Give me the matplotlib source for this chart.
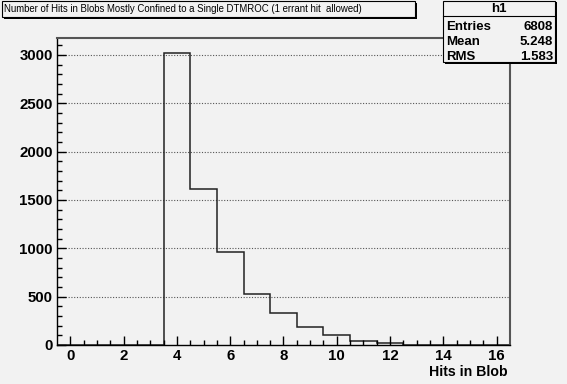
import matplotlib
matplotlib.use("Agg")
import matplotlib.pyplot as plt
from matplotlib.patches import Rectangle
from matplotlib.lines import Line2D
import numpy as np

# histogram contents, bins of width 1 centred on integer hit counts
bin_centers = list(range(0, 17))
counts = [0, 0, 0, 0, 3023, 1617, 959, 528, 332, 185, 103, 41, 16, 4, 0, 0, 0]

title = "Number of Hits in Blobs Mostly Confined to a Single DTMROC (1 errant hit  allowed)"
stats_name = "h1"
stats_labels = ["Entries", "Mean", "RMS"]
stats_values = ["6808", "5.248", "1.583"]
x_ticks = [0, 2, 4, 6, 8, 10, 12, 14, 16]
y_ticks = [0, 500, 1000, 1500, 2000, 2500, 3000]

W, H = 567, 384
bg = "#f2f2f2"
plt.rcParams["font.family"] = ["Liberation Sans", "DejaVu Sans"]

fig = plt.figure(figsize=(W / 100, H / 100), dpi=100, facecolor=bg)


def fx(px):
    return px / W


def fy(py):
    return 1 - py / H


ax = fig.add_axes([fx(57), fy(345), fx(510) - fx(57), fy(38) - fy(345)])
ax.set_facecolor(bg)

edges = np.array(bin_centers + [bin_centers[-1] + 1]) - 0.5
ax.stairs(counts, edges, color="#222222", lw=1.1, baseline=0)

ax.set_xlim(-0.5, 16.5)
ax.set_ylim(0, 1.05 * max(counts))
ax.set_xticks(x_ticks)
ax.set_xticks(np.arange(0, 16.5, 0.5), minor=True)
ax.set_yticks(y_ticks)
ax.set_yticks(np.arange(0, 3200, 100), minor=True)
ax.tick_params(which="both", direction="in", top=False, right=False, color="black")
ax.tick_params(which="major", length=6.5, width=1, labelsize=10.8, pad=3)
ax.tick_params(which="minor", length=3.3, width=1)
for lab in ax.get_xticklabels() + ax.get_yticklabels():
    lab.set_fontweight("bold")

for y in y_ticks[1:]:
    ax.axhline(y, color="#555555", lw=0.8, ls=(0, (1, 1.5)), zorder=0)

for side in ["left", "bottom"]:
    ax.spines[side].set_color("black")
    ax.spines[side].set_linewidth(1.0)
for side in ["top", "right"]:
    ax.spines[side].set_color("#555555")
    ax.spines[side].set_linewidth(1.5)

fig.text(fx(508), fy(372), "Hits in Blob", ha="right", va="center",
         fontsize=10.2, fontweight="bold")


def box(x0, y0, x1, y1, sh=2):
    # shadow then box, ROOT style
    fig.patches.append(Rectangle((fx(x0 + sh), fy(y1 + sh)), fx(x1 - x0), fy(y0) - fy(y1),
                                 transform=fig.transFigure, facecolor="black",
                                 edgecolor="none", zorder=5))
    fig.patches.append(Rectangle((fx(x0), fy(y1)), fx(x1 - x0), fy(y0) - fy(y1),
                                 transform=fig.transFigure, facecolor=bg,
                                 edgecolor="black", lw=0.8, zorder=6))


box(2, 1, 415, 17)
fig.text(fx(4), fy(9.5), title, ha="left", va="center", fontsize=6.95, zorder=7)

box(443, 1, 555, 62, sh=1.5)
fig.lines.append(Line2D([fx(443), fx(555)], [fy(15.5), fy(15.5)],
                        transform=fig.transFigure, color="black", lw=0.8, zorder=7))
fig.text(fx(499), fy(8.5), stats_name, ha="center", va="center",
         fontsize=9.5, fontweight="bold", zorder=7)
for i, (lab, val) in enumerate(zip(stats_labels, stats_values)):
    yy = fy(26.5 + i * 15.5)
    fig.text(fx(446), yy, lab, ha="left", va="center", fontsize=9.5,
             fontweight="bold", zorder=7)
    fig.text(fx(553), yy, val, ha="right", va="center", fontsize=9.5,
             fontweight="bold", zorder=7)

fig.savefig("out.png", dpi=100, facecolor=bg)
